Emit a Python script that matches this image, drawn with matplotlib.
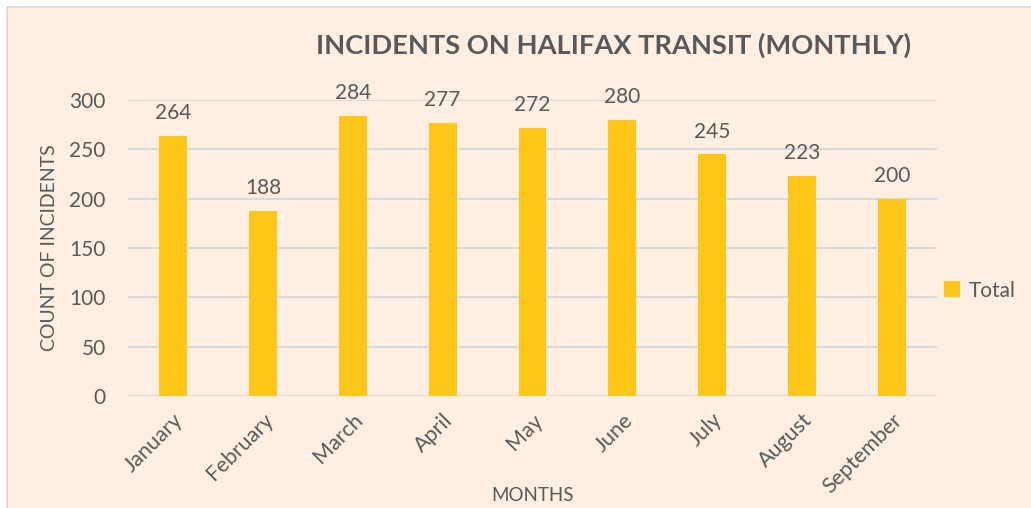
"""Monthly incidents on Halifax Transit - column chart."""

import matplotlib
matplotlib.use("Agg")
import matplotlib.pyplot as plt
from matplotlib.patches import Rectangle, Patch
from matplotlib.lines import Line2D

months = ["January", "February", "March", "April", "May",
          "June", "July", "August", "September"]
incidents = [264, 188, 284, 277, 272, 280, 245, 223, 200]
y_ticks = [0, 50, 100, 150, 200, 250, 300]

BG = "#FEEFE2"
BAR = "#FFC61A"
TXT = "#595959"
GRID = "#D9D9D9"

plt.rcParams["font.family"] = ["Lato", "DejaVu Sans"]

fig = plt.figure(figsize=(10.31, 5.08), dpi=100)
fig.patch.set_facecolor("white")

# peach chart area, thin gray edge only on top / left (rest is cropped)
W, H = 1031, 508
x0, y1 = 7 / W, 1 - 7 / H
fig.patches.append(Rectangle((x0, 0), 1.0, y1, transform=fig.transFigure,
                             facecolor=BG, edgecolor="none", zorder=-10))
fig.lines.append(Line2D([x0, x0, 1], [0, y1, y1], transform=fig.transFigure,
                        color=GRID, linewidth=1.2))

ax = fig.add_axes([128 / W, 1 - 396 / H, (937 - 128) / W, (396 - 100) / H])
ax.set_facecolor("none")

x = range(len(months))
ax.bar(x, incidents, width=0.31, color=BAR, zorder=3, label="Total")

for xi, v in zip(x, incidents):
    ax.annotate(str(v), (xi, v), xytext=(0, 9), textcoords="offset points",
                ha="center", va="bottom", fontsize=15, color=TXT)

ax.set_xlim(-0.5, len(months) - 0.5)
ax.set_ylim(0, 300)
ax.set_yticks(y_ticks)
ax.set_xticks(list(x))
ax.set_xticklabels(months, rotation=45, ha="right", rotation_mode="anchor",
                   fontsize=15.5, color=TXT)
ax.tick_params(axis="y", labelsize=15, labelcolor=TXT, length=0, pad=16)
ax.tick_params(axis="x", length=0, pad=10)
ax.grid(axis="y", color=GRID, linewidth=1.5, zorder=0)
for s in ax.spines.values():
    s.set_visible(False)

ax.set_ylabel("COUNT OF INCIDENTS", fontsize=14, color=TXT, labelpad=8)
ax.set_xlabel("MONTHS", fontsize=13.5, color=TXT, labelpad=-7)

fig.text(613 / W, 1 - 45 / H, "INCIDENTS ON HALIFAX TRANSIT (MONTHLY)",
         ha="center", va="center", fontsize=19.6, fontweight="bold", color=TXT)

ax.legend(handles=[Patch(facecolor=BAR, label="Total")], loc="center left",
          bbox_to_anchor=(0.985, 0.356), frameon=False, fontsize=15,
          labelcolor=TXT, handlelength=0.8, handleheight=0.8, handletextpad=0.4)

plt.savefig("out.png", dpi=100, facecolor=fig.get_facecolor())
plt.close()
